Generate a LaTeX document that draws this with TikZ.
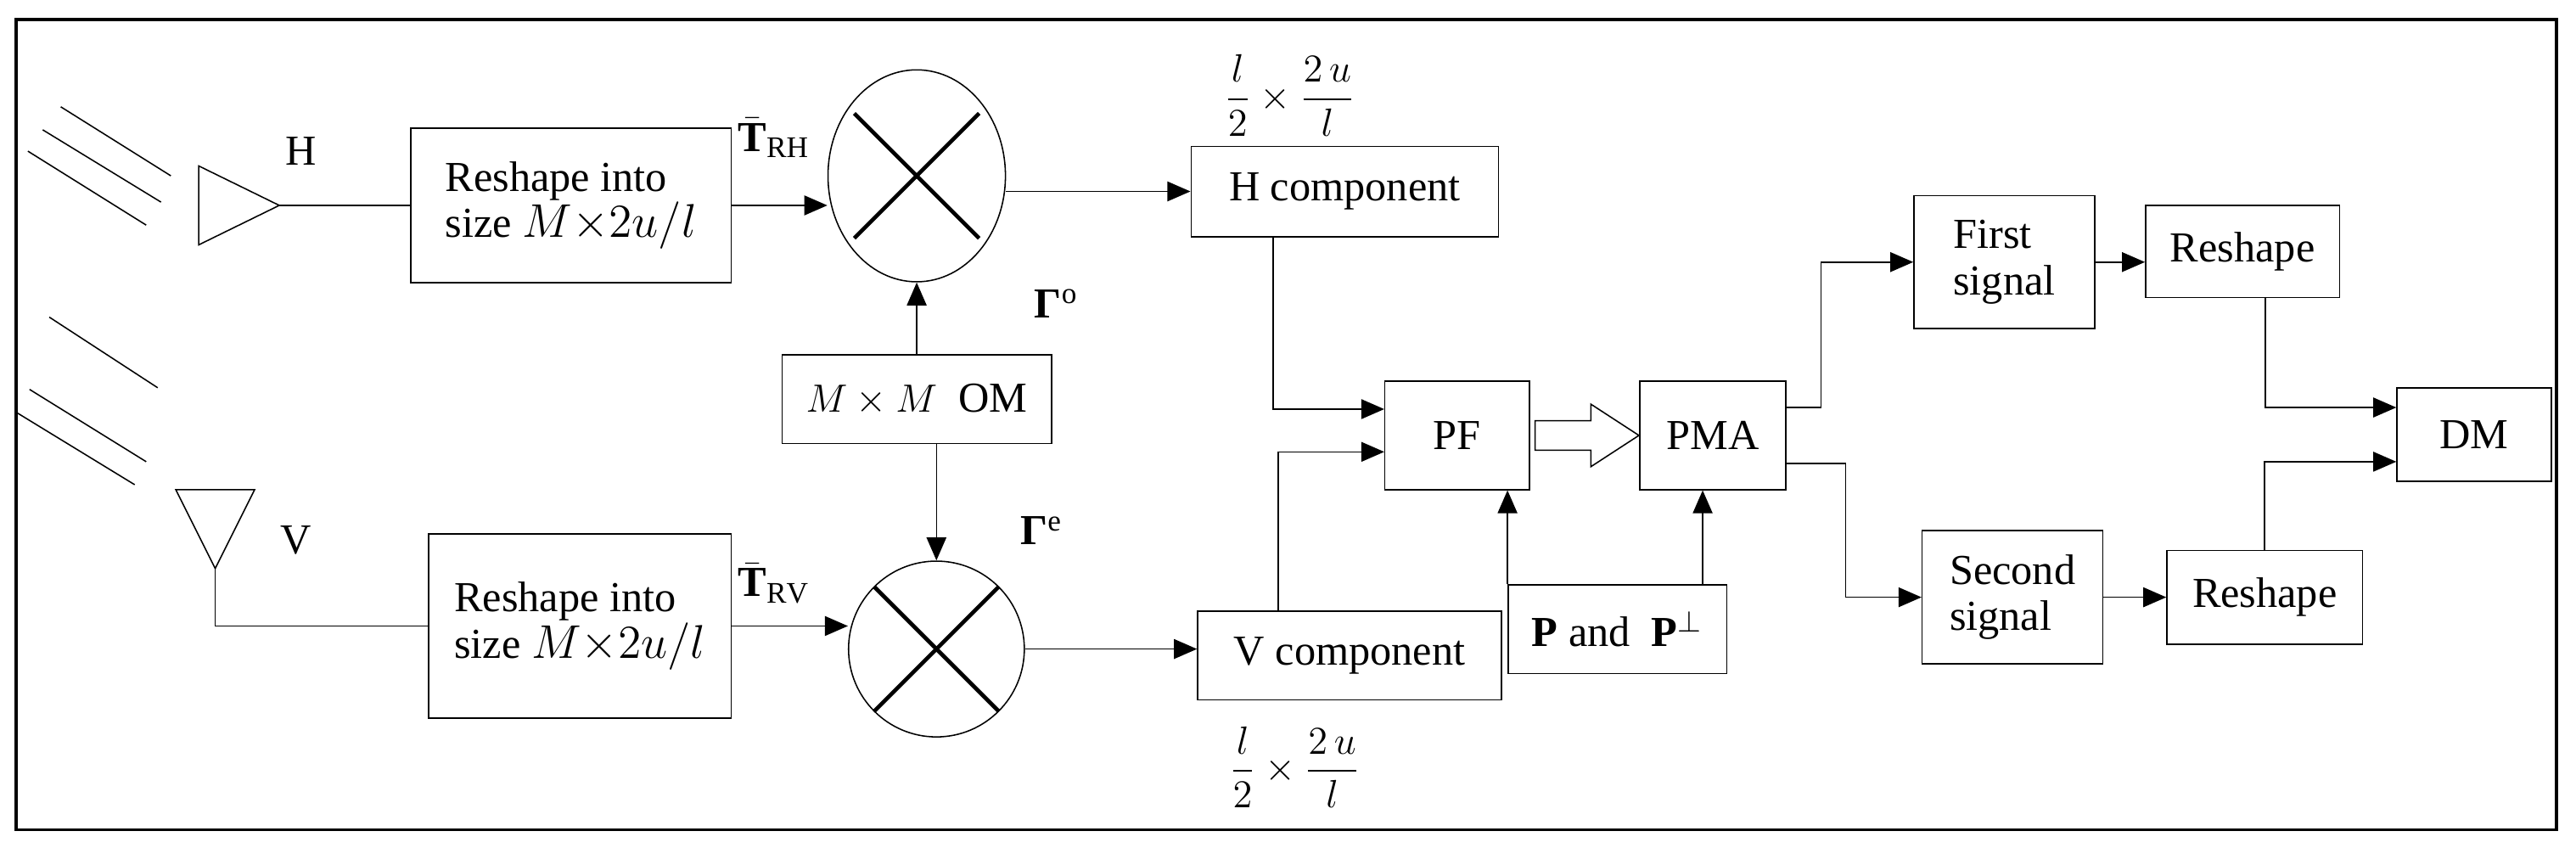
\documentclass[tikz,border=0pt]{standalone}
\usepackage{amsmath}
\usepackage{fontspec}
\setmainfont{Liberation Serif}
\usetikzlibrary{arrows.meta,shapes.geometric,calc}
\begin{document}
\begin{tikzpicture}[x=0.5pt,y=-0.5pt,
  box/.style={draw,line width=0.4pt,inner sep=0pt,align=left,font=\fontsize{13}{14}\selectfont},
  mix/.style={draw,line width=0.4pt,ellipse,inner sep=0pt},
  arr/.style={-{Triangle[length=7pt,width=6pt]},line width=0.4pt},
  ln/.style={line width=0.4pt},
  lbl/.style={font=\fontsize{13}{14}\selectfont}]
\useasboundingbox (0,0) rectangle (1568,516);
\draw[line width=1pt] (10,12) rectangle (1556,505);

% incoming wave fronts
\draw[ln] (37,65) -- (104,107);
\draw[ln] (26,79) -- (98,123);
\draw[ln] (17,92) -- (89,137);
\draw[ln] (30,193) -- (96,236);
\draw[ln] (18,237) -- (89,281);
\draw[ln] (10,251) -- (82,295);

% antennas
\draw[ln] (121,101) -- (121,149) -- (170,125) -- cycle;
\coordinate (ah) at (170,125);
\draw[ln] (107,298) -- (155,298) -- (131,346) -- cycle;
\coordinate (av) at (131,346);
\node[lbl] (lh) at (183,92) {H};
\node[lbl] (lv) at (180,329) {V};

% boxes
\node[box,minimum width=97.5pt,minimum height=47pt] (rh) at (347.5,125)
  {Reshape into\\size {\Large$M{\times}2u/l$}};
\node[box,minimum width=92pt,minimum height=56pt] (rv) at (353,381)
  {Reshape into\\size {\Large$M{\times}2u/l$}};
\node[mix,minimum width=54pt,minimum height=64.5pt] (ch) at (558,107) {};
\node[mix,minimum width=53.5pt,minimum height=53.5pt] (cv) at (570,395) {};
\node[box,minimum width=82pt,minimum height=27pt] (om) at (558,243) {$M\times M$\ \ OM};
\node[box,minimum width=93.5pt,minimum height=27.5pt] (hc) at (818.5,116.5) {H component};
\node[box,minimum width=92.5pt,minimum height=27pt] (vc) at (821.5,399) {V component};
\node[box,minimum width=44pt,minimum height=33pt] (pf) at (887,265) {PF};
\node[box,minimum width=44.5pt,minimum height=33pt] (pma) at (1042.5,265) {PMA};
\node[box,minimum width=66.5pt,minimum height=27pt] (pp) at (984.5,383)
  {$\mathbf{P}$\ and\ \ $\mathbf{P}^{\perp}$};
\node[box,minimum width=55pt,minimum height=40.5pt] (fs) at (1220,159.5) {First\\signal};
\node[box,minimum width=55pt,minimum height=40.5pt] (ss) at (1225,363.5) {Second\\signal};
\node[box,minimum width=59pt,minimum height=28pt] (r1) at (1365,153) {Reshape};
\node[box,minimum width=59.5pt,minimum height=28.5pt] (r2) at (1378.5,363.5) {Reshape};
\node[box,minimum width=47pt,minimum height=28.5pt] (dm) at (1506,264.5) {DM};

% multiplier crosses
\draw[line width=1.2pt] ($(ch.center)+(-38,-38)$) -- ($(ch.center)+(38,38)$);
\draw[line width=1.2pt] ($(ch.center)+(-38,38)$) -- ($(ch.center)+(38,-38)$);
\draw[line width=1.2pt] ($(cv.center)+(-38,-38)$) -- ($(cv.center)+(38,38)$);
\draw[line width=1.2pt] ($(cv.center)+(-38,38)$) -- ($(cv.center)+(38,-38)$);

% labels
\node[lbl] (trh) at (471,84) {$\bar{\mathbf{T}}_{\mathrm{RH}}$};
\node[lbl] (trv) at (471,355) {$\bar{\mathbf{T}}_{\mathrm{RV}}$};
\node[lbl] (go) at (643,185) {\textbf{Γ}\textsuperscript{o}};
\node[lbl] (ge) at (634,323) {\textbf{Γ}\textsuperscript{e}};
\node[lbl] (fh) at (785,58) {$\dfrac{l}{2}\times\dfrac{2\,u}{l}$};
\node[lbl] (fv) at (788,467) {$\dfrac{l}{2}\times\dfrac{2\,u}{l}$};

% connectors
\draw[ln] (ah) -- (ah -| rh.west);
\draw[ln] (av) |- (rv.west);
\draw[arr] (rh.east) -- (rh.east -| ch.west);
\draw[arr] (rv.east) -- (rv.east -| cv.west);
\draw[arr] (om.north) -- (ch.south);
\draw[arr] (om.south -| cv.north) -- (cv.north);
\draw[arr] (hc.west -| ch.east) -- (hc.west);
\draw[arr] (cv.east) -- (cv.east -| vc.west);
\draw[arr] ([xshift=-21.75pt]hc.south) |- ([yshift=8pt]pf.west);
\draw[arr] ([xshift=-21.75pt]vc.north) |- ([yshift=-5pt]pf.west);
\draw[arr] (pp.north west) -- (pp.north west |- pf.south);
\draw[arr] ([xshift=-7.5pt]pp.north east) -- ([xshift=-7.5pt]pp.north east |- pma.south);
\draw[ln] ($(pf.east)+(3,-9)$) -- ($(pf.east)+(37,-9)$) -- ($(pf.east)+(37,-19)$)
  -- (pma.west) -- ($(pf.east)+(37,19)$) -- ($(pf.east)+(37,9)$) -- ($(pf.east)+(3,9)$) -- cycle;
\draw[arr] ([yshift=8.5pt]pma.east) -- ++(21,0) |- (fs.west);
\draw[arr] ([yshift=-8.5pt]pma.east) -- ++(36,0) |- (ss.west);
\draw[arr] (fs.east) -- (fs.east -| r1.west);
\draw[arr] (ss.east) -- (ss.east -| r2.west);
\draw[arr] ([xshift=7pt]r1.south) |- ([yshift=8.25pt]dm.west);
\draw[arr] (r2.north) |- ([yshift=-8.25pt]dm.west);
\end{tikzpicture}
\end{document}
